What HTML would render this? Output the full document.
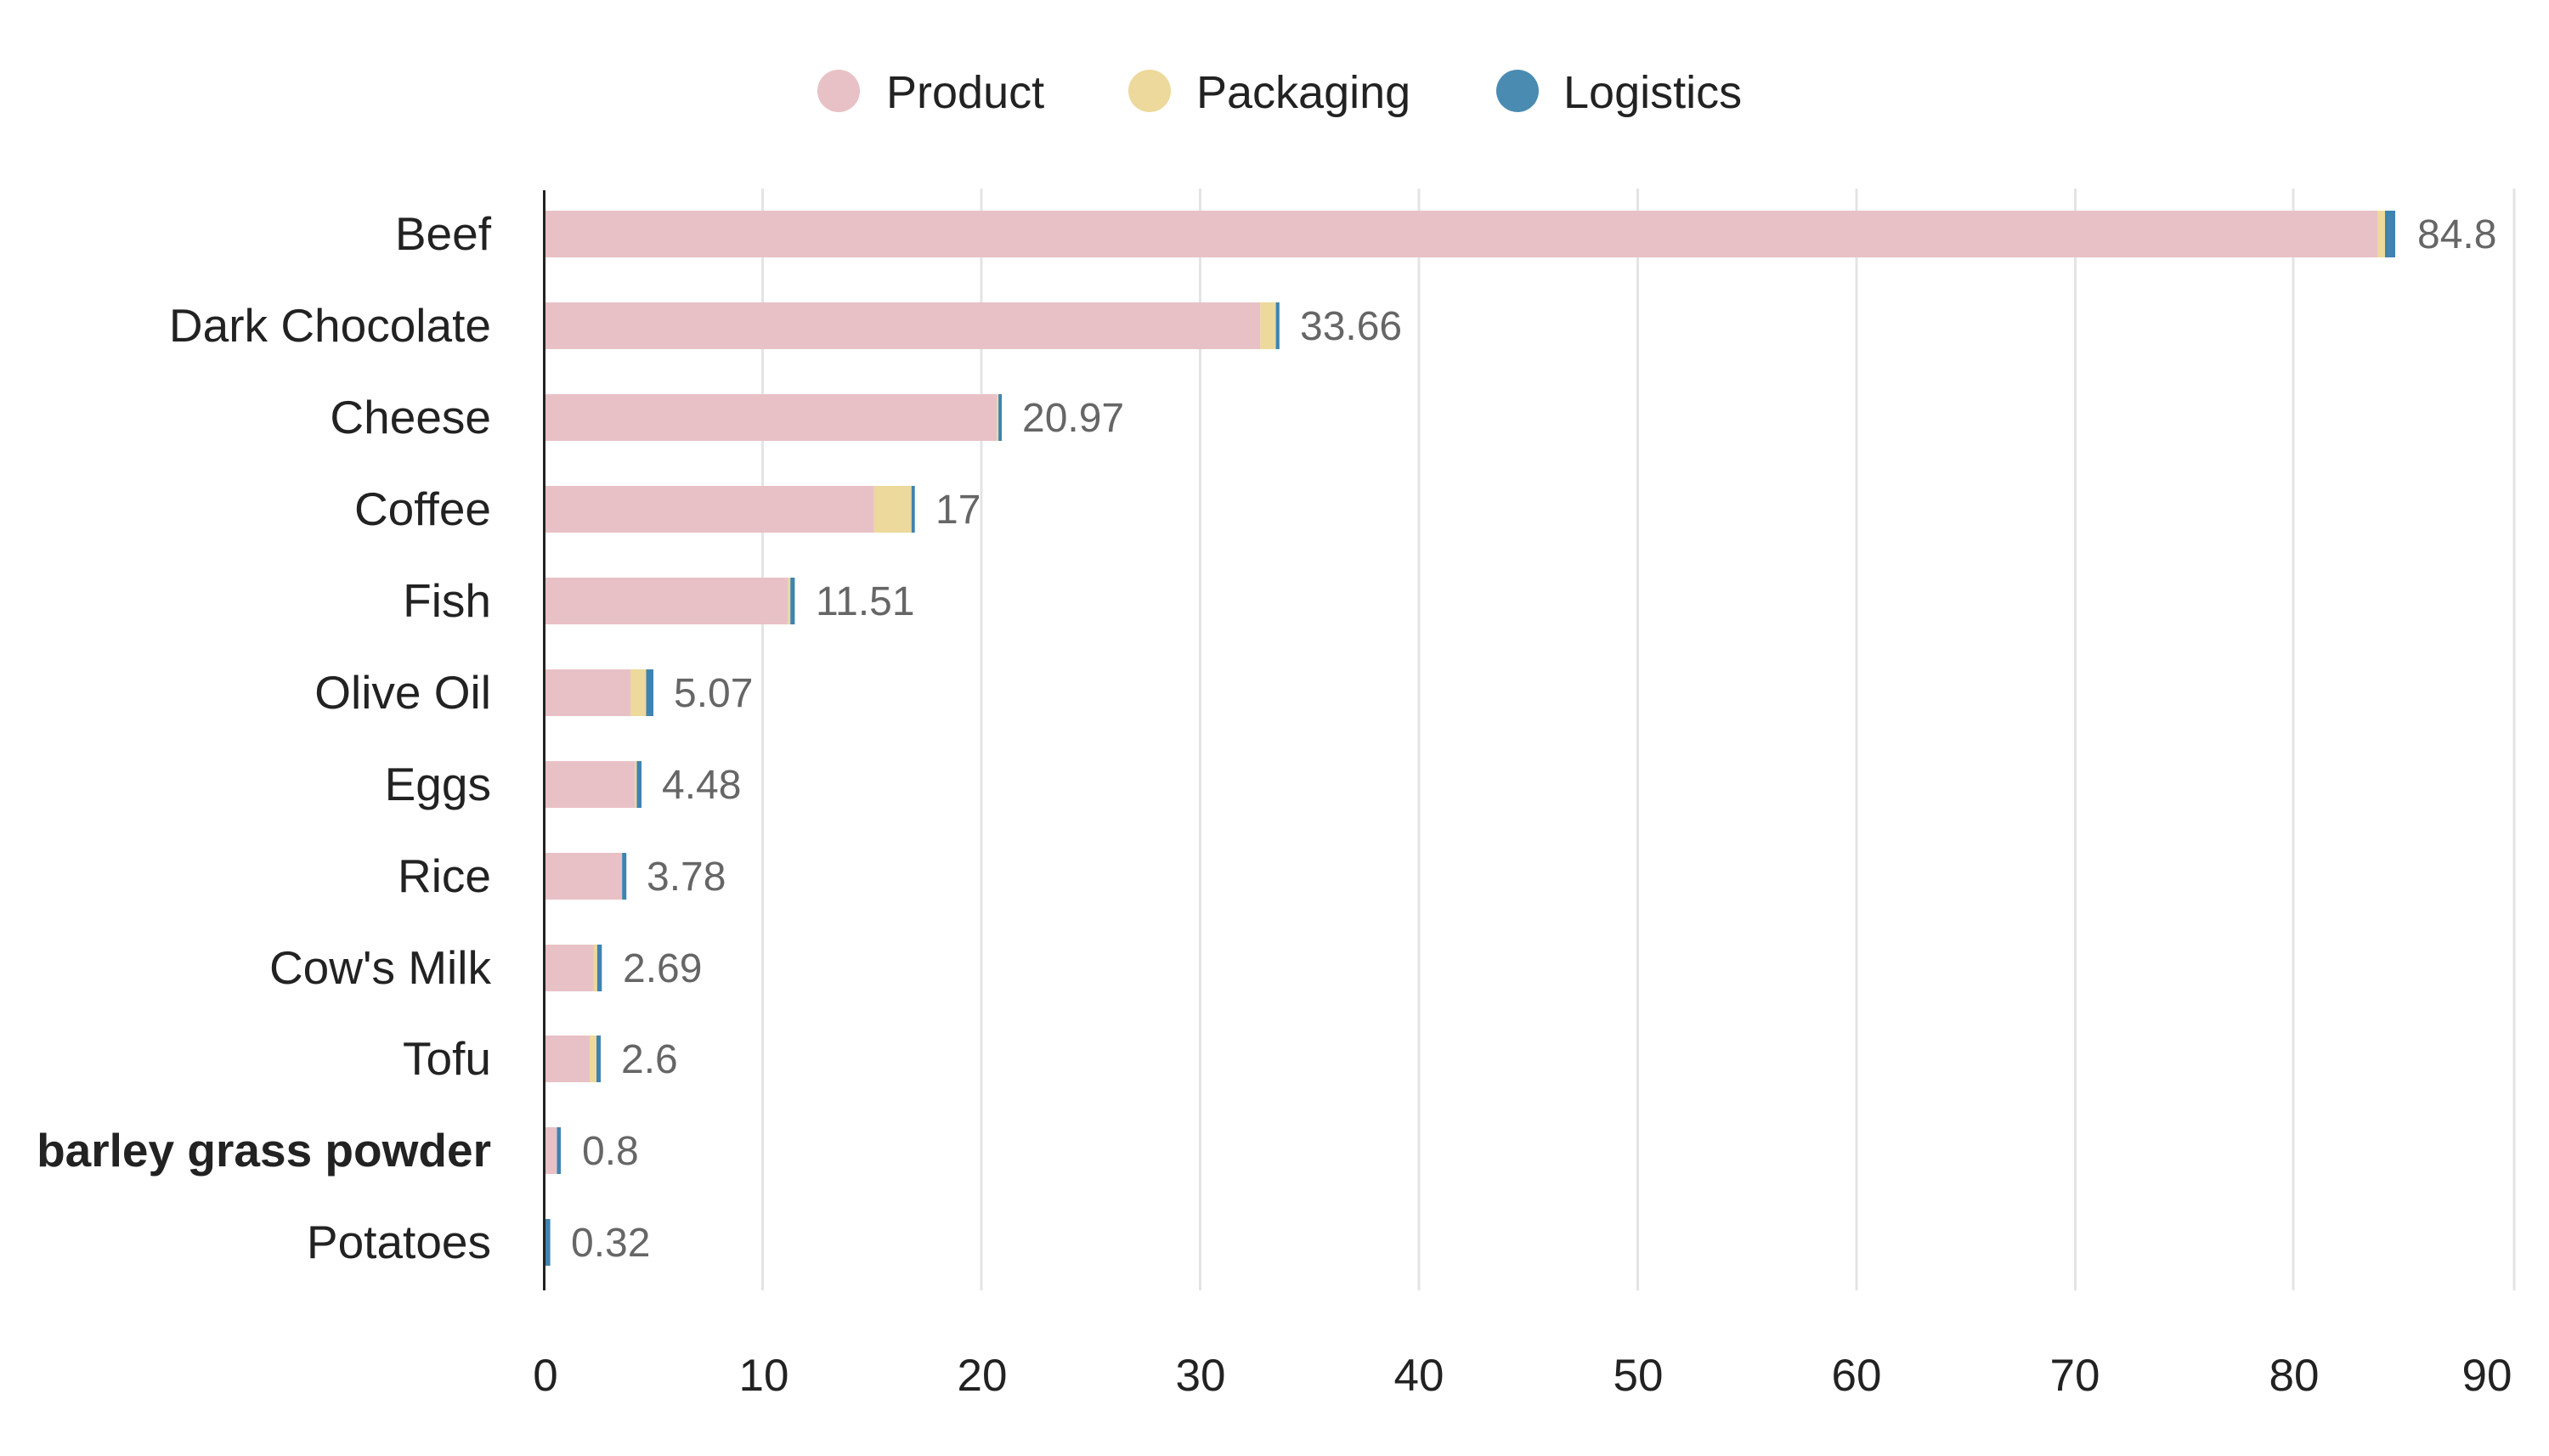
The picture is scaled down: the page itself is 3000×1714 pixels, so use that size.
<!DOCTYPE html>
<html><head><meta charset="utf-8"><style>
html,body{margin:0;padding:0;background:#fff;}
svg{display:block;}
text{font-family:"Liberation Sans",Arial,sans-serif;}
</style></head><body>
<svg width="3000" height="1714" viewBox="0 0 3000 1714" xmlns="http://www.w3.org/2000/svg">
<rect width="3000" height="1714" fill="#fff"/>
<!-- legend -->
<circle cx="987" cy="107" r="25" fill="#e8c1c6"/>
<text x="1043" y="127" font-size="54" fill="#222">Product</text>
<circle cx="1353" cy="107" r="25" fill="#ecd99b"/>
<text x="1408" y="127" font-size="54" fill="#222">Packaging</text>
<circle cx="1786" cy="107" r="25" fill="#4a8bb2"/>
<text x="1840" y="127" font-size="54" fill="#222">Logistics</text>
<!-- gridlines -->
<g stroke="#e4e4e4" stroke-width="3">
<line x1="897.5" y1="222" x2="897.5" y2="1519"/>
<line x1="1155" y1="222" x2="1155" y2="1519"/>
<line x1="1412.5" y1="222" x2="1412.5" y2="1519"/>
<line x1="1670" y1="222" x2="1670" y2="1519"/>
<line x1="1927.5" y1="222" x2="1927.5" y2="1519"/>
<line x1="2185" y1="222" x2="2185" y2="1519"/>
<line x1="2442.5" y1="222" x2="2442.5" y2="1519"/>
<line x1="2699" y1="222" x2="2699" y2="1519"/>
<line x1="2959" y1="222" x2="2959" y2="1519"/>
</g>
<g>
<!-- Beef -->
<rect x="641" y="248" width="2157" height="55" fill="#e8c1c6"/>
<rect x="2798" y="248" width="9" height="55" fill="#ecd99b"/>
<rect x="2807" y="248" width="12" height="55" fill="#3f83b0"/>
<!-- Dark Chocolate -->
<rect x="641" y="356" width="842.3" height="55" fill="#e8c1c6"/>
<rect x="1483.3" y="356" width="18.3" height="55" fill="#ecd99b"/>
<rect x="1501.6" y="356" width="4.2" height="55" fill="#3f83b0"/>
<!-- Cheese -->
<rect x="641" y="464" width="532.3" height="55" fill="#e8c1c6"/>
<rect x="1173.3" y="464" width="1.8" height="55" fill="#ecd99b"/>
<rect x="1175.1" y="464" width="3.9" height="55" fill="#3f83b0"/>
<!-- Coffee -->
<rect x="641" y="572" width="387.8" height="55" fill="#e8c1c6"/>
<rect x="1028.8" y="572" width="44" height="55" fill="#ecd99b"/>
<rect x="1072.8" y="572" width="3.9" height="55" fill="#3f83b0"/>
<!-- Fish -->
<rect x="641" y="680" width="286.4" height="55" fill="#e8c1c6"/>
<rect x="927.4" y="680" width="2.8" height="55" fill="#ecd99b"/>
<rect x="930.2" y="680" width="5.2" height="55" fill="#3f83b0"/>
<!-- Olive Oil -->
<rect x="641" y="788" width="101" height="55" fill="#e8c1c6"/>
<rect x="742" y="788" width="18.5" height="55" fill="#ecd99b"/>
<rect x="760.5" y="788" width="8.5" height="55" fill="#3f83b0"/>
<!-- Eggs -->
<rect x="641" y="896" width="106.4" height="55" fill="#e8c1c6"/>
<rect x="747.4" y="896" width="2.1" height="55" fill="#ecd99b"/>
<rect x="749.5" y="896" width="5.5" height="55" fill="#3f83b0"/>
<!-- Rice -->
<rect x="641" y="1004" width="91.2" height="55" fill="#e8c1c6"/>
<rect x="732.2" y="1004" width="5" height="55" fill="#3f83b0"/>
<!-- Cow's Milk -->
<rect x="641" y="1112" width="57.5" height="55" fill="#e8c1c6"/>
<rect x="698.5" y="1112" width="4.4" height="55" fill="#ecd99b"/>
<rect x="702.9" y="1112" width="5.4" height="55" fill="#3f83b0"/>
<!-- Tofu -->
<rect x="641" y="1219" width="53" height="55" fill="#e8c1c6"/>
<rect x="694" y="1219" width="8" height="55" fill="#ecd99b"/>
<rect x="702" y="1219" width="5" height="55" fill="#3f83b0"/>
<!-- barley -->
<rect x="641" y="1327" width="14.5" height="55" fill="#e8c1c6"/>
<rect x="655.5" y="1327" width="4.5" height="55" fill="#3f83b0"/>
<!-- Potatoes -->
<rect x="641" y="1435" width="0.6" height="55" fill="#e8c1c6"/>
<rect x="641.6" y="1435" width="6" height="55" fill="#3f83b0"/>
</g>
<!-- axis line -->
<line x1="640.5" y1="224" x2="640.5" y2="1519" stroke="#222" stroke-width="3"/>
<!-- category labels -->
<g font-size="55" fill="#222" text-anchor="end">
<text x="578" y="294">Beef</text>
<text x="578" y="402">Dark Chocolate</text>
<text x="578" y="510">Cheese</text>
<text x="578" y="618">Coffee</text>
<text x="578" y="726">Fish</text>
<text x="578" y="834">Olive Oil</text>
<text x="578" y="942">Eggs</text>
<text x="578" y="1050">Rice</text>
<text x="578" y="1158">Cow's Milk</text>
<text x="578" y="1265">Tofu</text>
<text x="578" y="1373" font-weight="bold">barley grass powder</text>
<text x="578" y="1481">Potatoes</text>
</g>
<!-- value labels -->
<g font-size="48" fill="#666">
<text x="2845" y="292">84.8</text>
<text x="1530" y="400">33.66</text>
<text x="1203" y="508">20.97</text>
<text x="1101" y="616">17</text>
<text x="960" y="724">11.51</text>
<text x="793" y="832">5.07</text>
<text x="779" y="940">4.48</text>
<text x="761" y="1048">3.78</text>
<text x="733" y="1156">2.69</text>
<text x="731" y="1263">2.6</text>
<text x="685" y="1371">0.8</text>
<text x="672" y="1479">0.32</text>
</g>
<!-- x tick labels -->
<g font-size="53" fill="#222" text-anchor="middle">
<text x="642" y="1637">0</text>
<text x="899" y="1637">10</text>
<text x="1156" y="1637">20</text>
<text x="1413" y="1637">30</text>
<text x="1670" y="1637">40</text>
<text x="1928" y="1637">50</text>
<text x="2185" y="1637">60</text>
<text x="2442" y="1637">70</text>
<text x="2700" y="1637">80</text>
<text x="2927" y="1637">90</text>
</g>
</svg>
</body></html>
